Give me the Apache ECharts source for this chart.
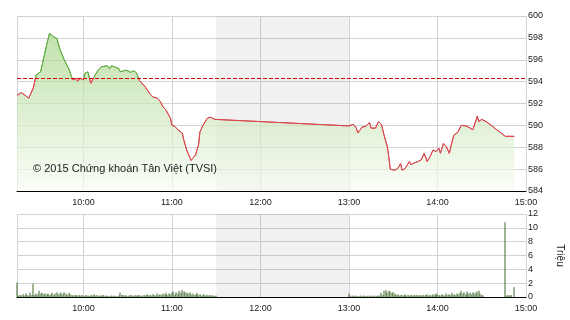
<!DOCTYPE html>
<html>
<head>
<meta charset="utf-8">
<script src="https://cdn.jsdelivr.net/npm/echarts@6/dist/echarts.min.js"></script>
<style>
html,body{margin:0;padding:0;background:#fff;}
#chart{width:570px;height:320px;}
</style>
</head>
<body>
<div id="chart"></div>
<script>
// ---- data ----
const priceTimes = ['09:15','09:18','09:20','09:23','09:24','09:26','09:28','09:31','09:33','09:35','09:37','09:38','09:40','09:42','09:44','09:47','09:50','09:52','09:53','09:55','09:56','09:58','10:00','10:01','10:03','10:04','10:05','10:06','10:07','10:10','10:12','10:16','10:18','10:19','10:21','10:24','10:25','10:29','10:32','10:34','10:36','10:38','10:42','10:45','10:46','10:47','10:50','10:52','10:54','10:56','10:59','11:00','11:02','11:04','11:07','11:08','11:10','11:12','11:13','11:16','11:18','11:19','11:21','11:24','11:26','11:29','11:30','13:00','13:03','13:05','13:06','13:09','13:11','13:12','13:14','13:15','13:18','13:20','13:22','13:24','13:26','13:27','13:28','13:31','13:33','13:35','13:36','13:38','13:39','13:41','13:42','13:44','13:47','13:49','13:51','13:53','13:55','13:57','13:59','14:01','14:02','14:04','14:06','14:08','14:11','14:14','14:16','14:19','14:21','14:22','14:24','14:27','14:28','14:30','14:33','14:46','14:52'];
const priceValues = [592.75,593.0,592.8,592.5,592.6,593.4,594.6,594.9,596.1,597.3,598.4,598.5,598.1,597.95,597.0,596.0,595.2,594.45,594.15,594.3,594.05,594.3,594.15,594.75,594.9,594.75,593.85,593.75,594.35,595.05,595.35,595.45,595.2,595.45,595.35,595.2,594.9,595.05,594.85,595.0,594.8,594.1,593.5,592.9,593.05,592.6,592.5,592.2,591.7,591.4,590.65,590.0,589.9,589.6,589.3,588.7,587.75,587.1,586.8,587.3,588.2,589.4,590.0,590.65,590.75,590.55,590.55,589.95,590.1,589.75,589.3,589.85,589.9,589.75,590.25,589.75,589.75,590.35,590.1,589.0,588.05,587.1,586.0,585.9,586.05,586.5,585.9,586.05,585.9,586.7,586.4,586.55,586.7,586.85,587.45,586.7,587.15,587.75,587.6,587.9,587.45,588.35,588.05,587.45,589.1,589.4,590.0,589.95,589.85,590.0,589.6,590.85,590.35,590.55,590.35,589.0,589.0];
const refPrice = 594.3;

// volume (million shares), one bar per minute from the session start
const morningVolStart = '09:15';
const morningVol = [
  2.1,0.2,0.3,0.2,0.4,0.2,0.5,0.3,0.2,0.6,0.3,1.9,0.3,0.5,0.4,
  0.9,0.5,0.6,0.4,0.5,0.4,0.5,0.3,0.4,0.6,0.3,0.5,0.7,0.4,0.5,
  0.6,0.4,0.7,0.5,0.3,0.6,0.4,0.3,0.2,0.3,0.2,0.2,0.3,0.2,0.3,
  0.2,0.1,0.3,0.2,0.1,0.3,0.2,0.4,0.2,0.3,0.1,0.2,0.2,0.3,0.2,
  0.1,0.2,0.1,0.1,0.2,0.1,0.2,0.1,0.1,0.2,0.6,0.3,0.3,0.2,0.2,
  0.1,0.2,0.3,0.2,0.1,0.3,0.2,0.2,0.3,0.2,0.1,0.3,0.2,0.4,0.3,
  0.3,0.2,0.4,0.3,0.2,0.5,0.3,0.4,0.3,0.5,0.4,0.6,0.3,0.5,0.4,
  0.6,0.8,0.4,0.7,0.5,0.9,0.6,1.0,0.8,0.7,0.6,0.5,0.7,0.4,0.5,
  0.3,0.4,0.6,0.3,0.4,0.2,0.3,0.4,0.2,0.3,0.2,0.3,0.2,0.2,0.1,0.2
];
const afternoonVolStart = '13:00';
const afternoonVol = [
  0.5,0.2,0.1,0.2,0.1,0.2,0.1,0.1,0.2,0.1,0.2,0.1,0.1,0.2,0.1,
  0.2,0.1,0.2,0.1,0.1,0.2,0.2,0.6,0.3,0.9,1.0,0.7,0.9,0.8,0.6,
  0.7,0.5,0.3,0.4,0.2,0.3,0.3,0.2,0.4,0.2,0.3,0.2,0.3,0.2,0.3,
  0.2,0.3,0.2,0.3,0.2,0.3,0.2,0.3,0.4,0.2,0.3,0.2,0.4,0.3,0.5,
  0.4,0.3,0.2,0.4,0.3,0.2,0.5,0.3,0.4,0.3,0.6,0.4,0.3,0.5,0.4,
  0.6,0.9,0.5,0.7,0.4,0.8,0.5,0.6,0.4,0.7,0.5,0.6,0.8,0.9,0.5,0.3,0.2
];
const atcTimes = ['14:46','14:47','14:48','14:49','14:50','14:52'];
const atcVol = [10.8,0.2,0.3,0.2,0.3,1.4];

const xTickLabels = ['10:00','11:00','12:00','13:00','14:00','15:00'];
const sessionStart = '09:15', sessionEnd = '15:00';
const breakStart = '11:30', breakEnd = '13:00';
const volumeUnit = 'Triệu';
const copyright = '© 2015 Chứng khoán Tân Việt (TVSI)';

// ---- helpers ----
const toMin = s => { const p = s.split(':'); return (+p[0]) * 60 + (+p[1]); };
const fmt = v => { const h = Math.floor(v / 60), m = Math.round(v % 60); return h + ':' + (m < 10 ? '0' : '') + m; };

const xMin = toMin(sessionStart), xMax = toMin(sessionEnd);
const tickVals = xTickLabels.map(toMin);
const gridVals = [xMin].concat(tickVals);

const priceData = priceTimes.map((t, i) => [toMin(t), priceValues[i]]);
const volData = [];
morningVol.forEach((v, i) => volData.push([toMin(morningVolStart) + i, v]));
afternoonVol.forEach((v, i) => volData.push([toMin(afternoonVolStart) + i, v]));
atcTimes.forEach((t, i) => volData.push([toMin(t), atcVol[i]]));

const gridColor = '#d3d3d3';
const FONT = 'Liberation Sans, Arial, sans-serif';
const labelStyle = { color: '#222', fontSize: 9, fontFamily: FONT };
const GREEN = '#62ad45', RED = '#d8474e';

function xAxisCfg(gridIndex) {
  return {
    type: 'value', gridIndex, min: xMin, max: xMax,
    axisLine: { show: true, onZero: false, lineStyle: { color: '#000', width: 1 } },
    axisTick: { show: false, customValues: gridVals },
    axisLabel: Object.assign({ customValues: tickVals, formatter: fmt, margin: 7 }, labelStyle),
    splitLine: { show: true, lineStyle: { color: gridColor, width: 1 } }
  };
}

const chart = echarts.init(document.getElementById('chart'), null, { renderer: 'canvas' });
chart.setOption({
  animation: false,
  backgroundColor: '#fff',
  grid: [
    { left: 17, right: 44, top: 16, height: 175, containLabel: false, outerBoundsMode: 'none' },
    { left: 17, right: 44, top: 214, height: 83, containLabel: false, outerBoundsMode: 'none' }
  ],
  xAxis: [xAxisCfg(0), xAxisCfg(1)],
  yAxis: [
    {
      type: 'value', gridIndex: 0, position: 'right', min: 584, max: 600, interval: 2,
      axisLine: { show: false }, axisTick: { show: false },
      axisLabel: Object.assign({ margin: 2 }, labelStyle),
      splitLine: { show: true, lineStyle: { color: gridColor, width: 1 } }
    },
    {
      type: 'value', gridIndex: 1, position: 'right', min: 0, max: 12, interval: 2,
      axisLine: { show: false }, axisTick: { show: false },
      axisLabel: Object.assign({ margin: 2 }, labelStyle),
      splitLine: { show: true, lineStyle: { color: gridColor, width: 1 } },
      name: volumeUnit, nameLocation: 'middle', nameRotate: -90, nameGap: 29,
      nameTextStyle: { color: '#222', fontSize: 10, fontFamily: FONT }
    }
  ],
  graphic: [{
    type: 'text', left: 33, top: 163, z: 100,
    style: { text: copyright, fill: '#222', fontSize: 11, fontFamily: FONT }
  }],
  series: [
    {
      type: 'line', xAxisIndex: 0, yAxisIndex: 0, data: [], z: 1, silent: true,
      markArea: { silent: true, itemStyle: { color: 'rgba(0,0,0,0.055)' }, data: [[{ xAxis: toMin(breakStart) }, { xAxis: toMin(breakEnd) }]] }
    },
    {
      type: 'line', xAxisIndex: 1, yAxisIndex: 1, data: [], z: 1, silent: true,
      markArea: { silent: true, itemStyle: { color: 'rgba(0,0,0,0.055)' }, data: [[{ xAxis: toMin(breakStart) }, { xAxis: toMin(breakEnd) }]] }
    },
    {
      id: 'price',
      type: 'line', xAxisIndex: 0, yAxisIndex: 0, data: priceData, z: 3,
      symbol: 'none', smooth: false,
      lineStyle: { width: 1, color: RED },
      areaStyle: {
        origin: 'start',
        color: new echarts.graphic.LinearGradient(0, 0, 0, 1, [
          { offset: 0, color: '#a6d588' },
          { offset: 1, color: '#f8fcf4' }
        ])
      },
      markLine: {
        silent: true, symbol: 'none', label: { show: false },
        lineStyle: { color: '#d40000', type: [4, 2], width: 1 },
        data: [{ yAxis: refPrice }]
      }
    },
    {
      type: 'custom', xAxisIndex: 1, yAxisIndex: 1, data: volData, z: 3,
      renderItem: function (params, api) {
        const p1 = api.coord([api.value(0), api.value(1)]);
        const p0 = api.coord([api.value(0), 0]);
        return {
          type: 'rect',
          shape: { x: Math.round(p1[0]) - 0.5, y: p1[1], width: 1, height: p0[1] - p1[1] },
          style: { fill: '#3e6b2c' }
        };
      }
    }
  ]
});

// colour the price line green above the reference price and red below it
const refY = chart.convertToPixel({ yAxisIndex: 0 }, refPrice);
const H = 320, off = refY / H;
chart.setOption({
  series: [{
    id: 'price',
    lineStyle: {
      color: new echarts.graphic.LinearGradient(0, 0, 0, H, [
        { offset: 0, color: GREEN },
        { offset: off, color: GREEN },
        { offset: off, color: RED },
        { offset: 1, color: RED }
      ], true)
    }
  }]
});
</script>
</body>
</html>
